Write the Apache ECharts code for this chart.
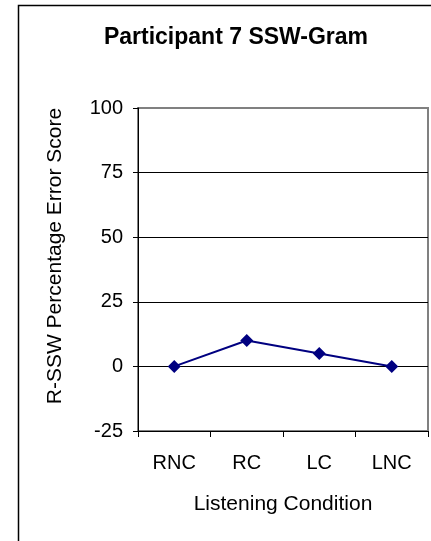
<!DOCTYPE html>
<html><head><meta charset="utf-8">
<script src="https://cdn.jsdelivr.net/npm/echarts@6/dist/echarts.min.js"></script>
<style>html,body{margin:0;padding:0;background:#fff}#c{width:431px;height:541px}</style>
</head><body><div id="c"></div>
<script>
const categories = ['RNC', 'RC', 'LC', 'LNC'];
const scores = [0, 10, 5, 0];
const yTicks = [-25, 0, 25, 50, 75, 100];

const chart = echarts.init(document.getElementById('c'), null, {renderer: 'canvas'});
const font = 'Liberation Sans, Arial, sans-serif';
chart.setOption({
  animation: false,
  backgroundColor: '#fff',
  title: {
    text: 'Participant 7 SSW-Gram',
    left: 231, top: 21, textAlign: 'center',
    textStyle: {fontFamily: font, fontSize: 23, fontWeight: 'bold', color: '#000'}
  },
  graphic: [{
    type: 'rect', shape: {x: 18.5, y: 5.5, width: 500, height: 600},
    style: {fill: 'none', stroke: '#000', lineWidth: 1.5}, silent: true, z: 0
  }, {
    type: 'text', x: 55, y: 256, rotation: Math.PI / 2,
    style: {text: 'R-SSW Percentage Error Score', fontFamily: font, fontSize: 21,
      fill: '#000', align: 'center', verticalAlign: 'middle'},
    silent: true
  }],
  grid: {
    left: 138, right: 3, top: 108, bottom: 110, show: true,
    borderColor: '#808080', borderWidth: 2, backgroundColor: 'transparent'
  },
  xAxis: {
    type: 'category', data: categories, boundaryGap: true,
    name: 'Listening Condition', nameLocation: 'middle', nameGap: 63,
    nameTextStyle: {fontFamily: font, fontSize: 21, color: '#000'},
    axisLine: {onZero: false, lineStyle: {color: '#000', width: 1}},
    axisTick: {show: true, alignWithLabel: false, length: 6, lineStyle: {color: '#000'}},
    axisLabel: {fontFamily: font, fontSize: 20, color: '#000', margin: 22},
    splitLine: {show: false}
  },
  yAxis: {
    type: 'value', min: yTicks[0], max: yTicks[yTicks.length - 1], interval: 25,
    axisLine: {show: true, lineStyle: {color: '#000', width: 1}},
    axisTick: {show: true, length: 5, lineStyle: {color: '#000'}},
    axisLabel: {fontFamily: font, fontSize: 20, color: '#000', margin: 15},
    splitLine: {show: true, lineStyle: {color: ['#000', '#000', '#000', '#000', '#000', '#808080'], width: 1}}
  },
  series: [{
    type: 'line', data: scores,
    symbol: 'diamond', symbolSize: 13,
    lineStyle: {color: '#000080', width: 2},
    itemStyle: {color: '#000080'},
    z: 5
  }]
});
</script></body></html>
